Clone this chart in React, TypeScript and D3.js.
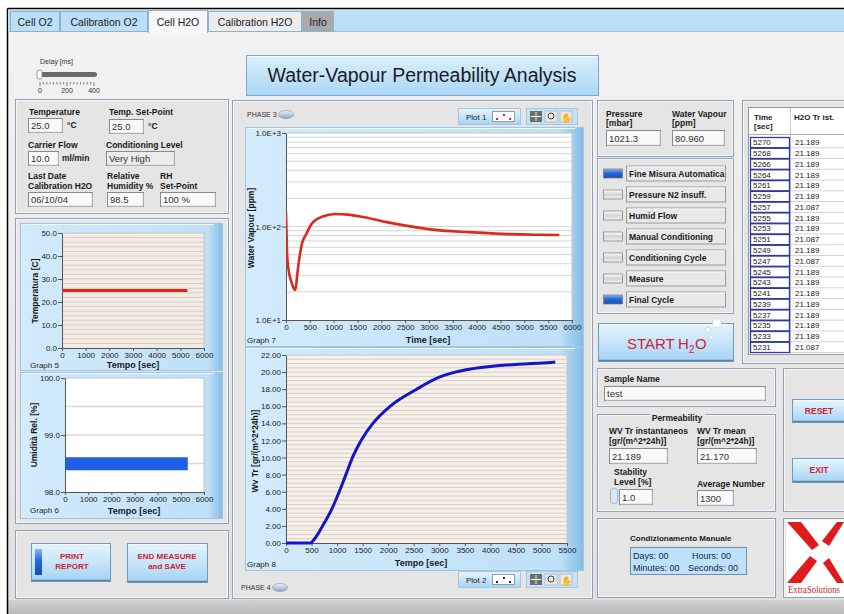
import React, { useEffect, useRef } from 'react';
import * as d3 from 'd3';

const FONT = '"Liberation Sans", Arial, sans-serif';

// tab strip
const tabs = ['Cell O2', 'Calibration O2', 'Cell H2O', 'Calibration H2O', 'Info'];

// Graph 5 - temperatura
const tempTime = [0, 5300];
const tempValue = [25, 25];

// Graph 6 - umidità relativa (banda dei punti)
const humTime = [0, 5300];
const humLow = [98.38, 98.38];
const humHigh = [98.61, 98.61];

// Graph 7 - water vapour [ppm]
const wvTime = [0, 4, 12, 21, 56, 112, 161, 182, 210, 231, 266, 336, 420, 545, 755, 1035, 1300, 1594, 2084, 2573, 3133, 3832, 4531, 5231, 5734];
const wvPpm = [143, 110, 84, 52, 34, 25.7, 21.8, 21, 22.7, 29, 40.6, 66, 82, 108, 127, 136, 134, 127, 112, 101, 92, 87, 83.3, 81.5, 81];

// Graph 8 - Wv Tr
const trTime = [0, 475, 560, 716, 898, 1042, 1172, 1300, 1470, 1700, 2037, 2558, 3000, 3307, 3500, 4000, 4500, 5000, 5270];
const trValue = [0, 0, 0.5, 2, 4, 6, 8, 10, 12, 14, 16, 18, 19.4, 20, 20.25, 20.65, 20.9, 21.05, 21.19];

// tabella
const tableTime = [5270, 5268, 5266, 5264, 5261, 5259, 5257, 5255, 5253, 5251, 5249, 5247, 5245, 5243, 5241, 5239, 5237, 5235, 5233, 5231];
const tableTr = ['21.189', '21.189', '21.189', '21.189', '21.189', '21.189', '21.087', '21.189', '21.189', '21.087', '21.189', '21.087', '21.189', '21.189', '21.189', '21.189', '21.189', '21.189', '21.189', '21.087'];

// indicatori
const indicators = ['Fine Misura Automatica', 'Pressure N2 insuff.', 'Humid Flow', 'Manual Conditioning', 'Conditioning Cycle', 'Measure', 'Final Cycle'];
const indicatorOn = [true, false, false, false, false, false, true];

export default function App() {
  const ref = useRef<SVGSVGElement | null>(null);

  useEffect(() => {
    const svg = d3.select(ref.current as SVGSVGElement);
    svg.selectAll('*').remove();
    svg.attr('font-family', FONT);
    const defs = svg.append('defs');

    const grad = (id: string, stops: [number, string][], horiz = false) => {
      const g = defs.append('linearGradient').attr('id', id)
        .attr('x1', 0).attr('y1', 0).attr('x2', horiz ? 1 : 0).attr('y2', horiz ? 0 : 1);
      stops.forEach(([o, c]) => g.append('stop').attr('offset', o).attr('stop-color', c));
    };
    grad('page', [[0, '#f3f3f3'], [1, '#e0e0e0']]);
    grad('btn', [[0, '#e6f4fd'], [0.5, '#c6e5fa'], [1, '#a4d2f3']]);
    grad('title', [[0, '#ddf0fd'], [1, '#a9d6f5']]);
    grad('frame', [[0, '#d3ebfb'], [0.93, '#bfe0f8'], [1, '#84bbe5']], true);
    grad('ledOn', [[0, '#8ab8f2'], [0.45, '#2466d8'], [1, '#1b4fb0']]);
    grad('ledOff', [[0, '#ffffff'], [0.5, '#d4d4d4'], [1, '#f2f2f2']]);
    grad('phase', [[0, '#eef4fa'], [1, '#8aa6c4']]);
    grad('band', [[0, '#d2d2d2'], [1, '#b8b8b8']]);

    const R = (x: number, y: number, w: number, h: number, fill: string, stroke = 'none', sw = 1, rx = 0) =>
      svg.append('rect').attr('x', x).attr('y', y).attr('width', w).attr('height', h)
        .attr('fill', fill).attr('stroke', stroke).attr('stroke-width', sw).attr('rx', rx);
    const L = (x1: number, y1: number, x2: number, y2: number, stroke: string, sw = 1) =>
      svg.append('line').attr('x1', x1).attr('y1', y1).attr('x2', x2).attr('y2', y2)
        .attr('stroke', stroke).attr('stroke-width', sw);
    const T = (x: number, y: number, s: string, o: any = {}) =>
      svg.append('text').attr('x', x).attr('y', y)
        .attr('font-size', o.size ?? 9)
        .attr('font-weight', o.bold ? 'bold' : 'normal')
        .attr('text-anchor', o.anchor ?? 'start')
        .attr('fill', o.fill ?? '#1a1a1a')
        .attr('font-family', o.family ?? FONT)
        .text(s);

    const panel = (x: number, y: number, w: number, h: number) => {
      R(x + 0.5, y + 0.5, w, h, '#e5e5e5', '#8ea4b6');
      R(x + 1.5, y + 1.5, w - 2, h - 2, 'none', '#f6f6f6');
    };
    const field = (x: number, y: number, w: number, h: number, s: string, fill = '#f9f9f9') => {
      R(x + 0.5, y + 0.5, w, h, fill, '#8a8a8a');
      svg.append('path').attr('d', `M${x + 1.5},${y + h}H${x + w}V${y + 1.5}`)
        .attr('fill', 'none').attr('stroke', '#d8d8d8');
      T(x + 3, y + h - 3, s, { size: 9.5, fill: '#333' });
    };
    const button = (x: number, y: number, w: number, h: number) => {
      R(x + 0.5, y + 0.5, w, h, 'url(#btn)', '#6f9ac0');
      L(x + 1.5, y + 1.5, x + w - 1, y + 1.5, '#f4fbff');
      L(x + 1, y + h - 0.5, x + w, y + h - 0.5, '#5c84aa', 1.5);
    };

    // pagina
    R(0, 0, 844, 614, '#ffffff');
    R(8, 9, 836, 605, 'url(#page)');
    R(8, 600, 836, 14, 'url(#band)');
    L(7.5, 8.5, 844, 8.5, '#000', 1.5);
    L(7.5, 8.5, 7.5, 614, '#000', 1.5);

    // tab strip
    R(8, 10, 836, 21, '#bcdff8');
    L(8, 31.5, 844, 31.5, '#9ec3e0');
    const tabEdge = [10, 60, 148, 208, 302, 334];
    const tabFill = ['#bcdff8', '#bcdff8', '#f7f7f7', '#ececec', '#a9a9a9'];
    tabs.forEach((t, i) => {
      const x0 = tabEdge[i];
      const x1 = tabEdge[i + 1];
      const active = i === 2;
      R(x0 + 0.5, active ? 10.5 : 11.5, x1 - x0 - 1, active ? 22 : 20, tabFill[i], '#8fb2cf');
      T((x0 + x1) / 2, 26, t, { size: 10.5, anchor: 'middle', fill: '#222' });
    });
    R(149, 30, 58, 3, '#f7f7f7');

    // delay slider
    T(40, 64, 'Delay [ms]', { size: 7, fill: '#333' });
    R(38, 72, 59, 5, '#6b6b6b', 'none', 1, 2.5);
    R(37, 70, 5, 9, '#ffffff', '#8a8a8a', 0.8, 2);
    const sx = d3.scaleLinear().domain([0, 400]).range([40, 94]);
    d3.range(0, 401, 25).forEach((v) => L(sx(v), 82, sx(v), v % 200 === 0 ? 86 : 84.5, '#555', 0.7));
    [0, 200, 400].forEach((v) => T(sx(v), 93, String(v), { size: 7, anchor: 'middle', fill: '#333' }));

    // titolo
    R(246.5, 55.5, 352, 40, 'url(#title)', '#7ea8ca');
    L(247.5, 56.5, 597, 56.5, '#f2faff');
    T(422, 82, 'Water-Vapour Permeability Analysis', { size: 19.5, anchor: 'middle', fill: '#1c1c1c' });

    // pannelli
    panel(15, 99, 213, 114);
    panel(15, 218, 213, 305);
    panel(15, 530, 213, 68);
    panel(232, 100, 360, 498);
    panel(597, 100, 136, 56);
    panel(597, 158, 136, 155);
    panel(742, 100, 110, 263);
    panel(597, 368, 178, 38);
    panel(597, 414, 178, 97);
    panel(597, 518, 178, 79);
    panel(783, 368, 70, 143);
    panel(783, 518, 70, 79);

    // parametri a sinistra
    const B = { bold: true, size: 8.5 };
    T(29, 115, 'Temperature', B);
    field(28, 118, 34, 14, '25.0');
    T(67, 128, '°C', { size: 8.5, bold: true });
    T(109, 115, 'Temp. Set-Point', B);
    field(109, 119, 34, 14, '25.0');
    T(148, 129, '°C', { size: 8.5, bold: true });
    T(28, 148, 'Carrier Flow', B);
    field(28, 151, 30, 14, '10.0');
    T(62, 161, 'ml/min', { size: 8.5, bold: true });
    T(106, 148, 'Conditioning Level', B);
    field(106, 151, 68, 14, 'Very High', '#ececec');
    T(28, 179, 'Last Date', B);
    T(28, 189, 'Calibration H2O', B);
    field(28, 192, 64, 14, '06/10/04');
    T(107, 179, 'Relative', B);
    T(107, 189, 'Humidity %', B);
    field(107, 192, 36, 14, '98.5');
    T(160, 179, 'RH', B);
    T(160, 189, 'Set-Point', B);
    field(160, 192, 55, 14, '100 %');

    // stile assi
    const styleAxis = (g: any) => {
      g.attr('font-size', 8).attr('font-family', FONT);
      g.select('.domain').attr('stroke', '#555');
      g.selectAll('.tick line').attr('stroke', '#555');
      g.selectAll('.tick text').attr('fill', '#222');
    };

    const graph = (o: any) => {
      const [fx, fy, fw, fh] = o.frame;
      R(fx + 0.5, fy + 0.5, fw, fh, 'url(#frame)', '#9fc5e4');
      L(fx + 1.5, fy + 1.5, fx + fw - 8, fy + 1.5, '#f0f9ff');
      const [x0, x1] = o.x.range();
      const [yb, yt] = o.y.range();
      R(x0, yt, x1 - x0, yb - yt, o.bg);
      o.grid.forEach((v: number) => L(x0, o.y(v), x1, o.y(v), o.gridColor, o.gridW ?? 1));
      L(x1, yt, x1, yb, '#c4c4c4');
      L(x0, yt, x1, yt, '#c4c4c4');
      const ay = svg.append('g').attr('transform', `translate(${x0},0)`)
        .call(d3.axisLeft(o.y).tickValues(o.yTicks).tickFormat(o.yFmt).tickSizeInner(4).tickSizeOuter(0).tickPadding(1) as any);
      const ax = svg.append('g').attr('transform', `translate(0,${yb})`)
        .call(d3.axisBottom(o.x).tickValues(o.xTicks).tickFormat(d3.format('d')).tickSizeInner(3).tickSizeOuter(0).tickPadding(1) as any);
      styleAxis(ay);
      styleAxis(ax);
      svg.append('text').attr('transform', `translate(${o.yLab[0]},${o.yLab[1]}) rotate(-90)`)
        .attr('text-anchor', 'middle').attr('font-size', 8.5).attr('font-weight', 'bold')
        .attr('fill', '#1a1a1a').text(o.yTitle);
      T(o.xLab[0], o.xLab[1], o.xTitle, { bold: true, size: 9, anchor: 'middle' });
      T(o.name[0], o.name[1], o.nameText, { size: 8, fill: '#222' });
      const cid = 'clip' + o.nameText.replace(/\s/g, '');
      defs.append('clipPath').attr('id', cid).append('rect')
        .attr('x', x0).attr('y', yt - 2).attr('width', x1 - x0).attr('height', yb - yt + 4);
      return svg.append('g').attr('clip-path', `url(#${cid})`);
    };

    // Graph 5
    const x5 = d3.scaleLinear().domain([0, 6000]).range([62, 204]);
    const y5 = d3.scaleLinear().domain([0, 50]).range([348, 233]);
    const g5 = graph({
      frame: [20, 223, 202, 147], x: x5, y: y5, bg: '#f3ece5',
      grid: d3.range(2, 50, 2), gridColor: '#d9cdc4',
      yTicks: d3.range(0, 51, 10), yFmt: d3.format('.1f'), xTicks: d3.range(0, 6001, 1000),
      yLab: [38, 291], yTitle: 'Temperatura [C]', xLab: [133, 368], xTitle: 'Tempo [sec]',
      name: [30, 368], nameText: 'Graph 5',
    });
    g5.append('path')
      .attr('d', d3.line<number>().x((d) => x5(d)).y((_, i) => y5(tempValue[i]))(tempTime) as string)
      .attr('fill', 'none').attr('stroke', '#d9291c').attr('stroke-width', 3);

    // Graph 6
    const x6 = d3.scaleLinear().domain([0, 6000]).range([65, 204]);
    const y6 = d3.scaleLinear().domain([98, 100]).range([492, 378]);
    const g6 = graph({
      frame: [20, 372, 202, 146], x: x6, y: y6, bg: '#ffffff',
      grid: [98.5, 99, 99.5], gridColor: '#d8d8d8', gridW: 1.5,
      yTicks: [98, 99, 100], yFmt: d3.format('.1f'), xTicks: d3.range(0, 6001, 1000),
      yLab: [37, 435], yTitle: 'Umidità Rel. [%]', xLab: [134, 514], xTitle: 'Tempo [sec]',
      name: [30, 513], nameText: 'Graph 6',
    });
    g6.append('path')
      .attr('d', d3.area<number>().x((d) => x6(d)).y0((_, i) => y6(humLow[i])).y1((_, i) => y6(humHigh[i]))(humTime) as string)
      .attr('fill', '#1f5fe6');

    // Graph 7
    const x7 = d3.scaleLinear().domain([0, 6000]).range([286, 572]);
    const y7 = d3.scaleLog().domain([10, 1000]).range([320, 133]);
    const minor7 = [20, 30, 40, 50, 60, 70, 80, 90, 200, 300, 400, 500, 600, 700, 800, 900];
    const g7 = graph({
      frame: [245, 127, 338, 219], x: x7, y: y7, bg: '#ffffff',
      grid: [...minor7, 100], gridColor: '#d6d6d6',
      yTicks: [10, 100, 1000], yFmt: (d: number) => `1.0E+${Math.round(Math.log10(d))}`,
      xTicks: d3.range(0, 6001, 500),
      yLab: [254, 228], yTitle: 'Water Vapour  [ppm]', xLab: [428, 343], xTitle: 'Time [sec]',
      name: [247, 343], nameText: 'Graph 7',
    });
    g7.append('path')
      .attr('d', d3.line<number>().curve(d3.curveMonotoneX).x((d) => x7(d)).y((_, i) => y7(wvPpm[i]))(wvTime) as string)
      .attr('fill', 'none').attr('stroke', '#dc2a1c').attr('stroke-width', 2.6);

    // Graph 8
    const x8 = d3.scaleLinear().domain([0, 5500]).range([286, 567]);
    const y8 = d3.scaleLinear().domain([0, 22]).range([543, 355]);
    const g8 = graph({
      frame: [245, 347, 338, 223], x: x8, y: y8, bg: '#f6f0ea',
      grid: d3.range(0.5, 22, 0.5), gridColor: '#dacfc6',
      yTicks: d3.range(0, 23, 2), yFmt: d3.format('.2f'), xTicks: d3.range(0, 5501, 500),
      yLab: [258, 451], yTitle: 'Wv Tr  [gr/(m^2*24h)]', xLab: [421, 566], xTitle: 'Tempo [sec]',
      name: [247, 567], nameText: 'Graph 8',
    });
    g8.append('path')
      .attr('d', d3.line<number>().curve(d3.curveMonotoneX).x((d) => x8(d)).y((_, i) => y8(trValue[i]))(trTime) as string)
      .attr('fill', 'none').attr('stroke', '#1414c8').attr('stroke-width', 3);

    // phase LED, legenda, strumenti
    const phase = (x: number, y: number, s: string, cx: number) => {
      T(x, y, s, { size: 7, fill: '#333' });
      svg.append('ellipse').attr('cx', cx).attr('cy', y - 2.5).attr('rx', 7.5).attr('ry', 4)
        .attr('fill', 'url(#phase)').attr('stroke', '#7f97b0').attr('stroke-width', 0.6);
    };
    phase(247, 117, 'PHASE 3', 286);
    phase(241, 590, 'PHASE 4', 280);
    const legend = (y: number, s: string, color: string) => {
      R(458.5, y + 0.5, 62, 16, 'url(#btn)', '#a6c6df');
      T(466, y + 11.5, s, { size: 8, fill: '#222' });
      R(492.5, y + 3.5, 22, 10, '#ffffff', '#9a9a9a');
      [[496, 10], [503, 6], [509, 10]].forEach(([cx, cy]) =>
        R(cx, y + cy, 2, 2, color));
      R(526.5, y + 0.5, 51, 16, '#c8e2f5', '#a6c6df');
      R(530, y + 3, 12, 11, '#6d6d6d');
      L(536, y + 4, 536, y + 13, '#dfe', 1);
      L(531, y + 8.5, 541, y + 8.5, '#dfe', 1);
      R(545, y + 3, 12, 11, '#e8e8e8', '#999', 0.5);
      svg.append('circle').attr('cx', 551).attr('cy', y + 8).attr('r', 3).attr('fill', 'none').attr('stroke', '#444');
      R(560, y + 3, 12, 11, '#e8e8e8', '#999', 0.5);
      T(566, y + 12.5, '✋', { size: 9, anchor: 'middle', fill: '#444' });
    };
    legend(108, 'Plot 1', '#d42a1a');
    legend(571, 'Plot 2', '#1414c8');

    // pulsanti in basso a sinistra
    button(31, 543, 79, 38);
    R(35, 549, 7, 26, 'url(#ledOn)');
    T(72, 559, 'PRINT', { bold: true, size: 8, anchor: 'middle', fill: '#d0202c' });
    T(72, 569, 'REPORT', { bold: true, size: 8, anchor: 'middle', fill: '#d0202c' });
    button(127, 543, 80, 39);
    T(167, 559, 'END MEASURE', { bold: true, size: 8, anchor: 'middle', fill: '#d0202c' });
    T(167, 569, 'and SAVE', { bold: true, size: 8, anchor: 'middle', fill: '#d0202c' });

    // pressione / vapore
    T(606, 117, 'Pressure', B);
    T(606, 126, '[mbar]', B);
    field(606, 130, 54, 15, '1021.3');
    T(672, 117, 'Water Vapour', B);
    T(672, 126, '[ppm]', B);
    field(672, 130, 52, 15, '80.960');

    // indicatori
    const rowY = d3.scaleBand<number>().domain(d3.range(indicators.length)).range([163, 310]);
    indicators.forEach((s, i) => {
      const c = (rowY(i) as number) + rowY.bandwidth() / 2;
      R(603.5, c - 4.5, 19, 9, indicatorOn[i] ? 'url(#ledOn)' : 'url(#ledOff)', '#7a7a7a', 0.7);
      R(626.5, c - 7.5, 99, 15, '#e8e8e8', '#9a9a9a');
      L(627.5, c - 6.5, 725, c - 6.5, '#fafafa');
      T(629, c + 3, s, { bold: true, size: 8.5 });
    });

    // START H2O
    button(598, 323, 135, 38);
    T(627, 349, 'START', { size: 15, fill: '#d6203a' });
    T(678, 349, 'H', { size: 15, fill: '#d6203a' });
    T(689, 353, '2', { size: 10, fill: '#d6203a' });
    T(695, 349, 'O', { size: 15, fill: '#d6203a' });
    [[717, 323, 4.5], [708, 330, 2.6], [711, 337, 2], [703, 336, 1.4]].forEach(([cx, cy, r]) =>
      svg.append('circle').attr('cx', cx).attr('cy', cy).attr('r', r)
        .attr('fill', '#ffffff').attr('stroke', '#b8c4cc').attr('stroke-width', 0.6));

    // tabella
    R(748.5, 107.5, 100, 247, '#ffffff', '#9a9a9a');
    L(749, 134.5, 844, 134.5, '#b0b0b0');
    L(790.5, 108, 790.5, 354, '#c8c8c8');
    T(754, 120, 'Time', { bold: true, size: 8 });
    T(754, 129, '[sec]', { bold: true, size: 8 });
    T(794, 120, 'H2O Tr ist.', { bold: true, size: 8 });
    const tRow = d3.scaleBand<number>().domain(d3.range(tableTime.length)).range([137, 352]).paddingInner(0.05);
    tableTime.forEach((t, i) => {
      const y = tRow(i) as number;
      const h = tRow.bandwidth();
      R(750.5, y + 0.5, 39, h, '#ffffff', '#2a3a9e', 1.3);
      L(791, y + h + 0.5, 844, y + h + 0.5, '#d4d4d4');
      T(753, y + h - 2, String(t), { size: 8, fill: '#222' });
      T(795, y + h - 2, tableTr[i], { size: 8, fill: '#222' });
    });

    // sample name
    T(604, 382, 'Sample Name', B);
    field(604, 386, 161, 14, 'test');

    // permeability
    R(650, 414, 55, 4, '#e5e5e5');
    T(677, 421, 'Permeability', { bold: true, size: 8.5, anchor: 'middle' });
    T(609, 434, 'WV Tr instantaneos', B);
    T(609, 444, '[gr/(m^2*24h)]', B);
    field(609, 448, 58, 15, '21.189');
    T(697, 434, 'WV Tr mean', B);
    T(697, 444, '[gr/(m^2*24h)]', B);
    field(697, 448, 59, 15, '21.170');
    T(614, 475, 'Stability', B);
    T(614, 485, 'Level [%]', B);
    R(610.5, 488.5, 7, 15, '#d8e8f4', '#8aa0b4', 0.7, 3);
    field(619, 489, 33, 15, '1.0');
    T(697, 487, 'Average Number', B);
    field(697, 490, 36, 15, '1300');

    // reset / exit
    button(792, 399, 56, 23);
    T(819, 414, 'RESET', { bold: true, size: 8.5, anchor: 'middle', fill: '#d0202c' });
    button(792, 458, 56, 24);
    T(819, 473, 'EXIT', { bold: true, size: 8.5, anchor: 'middle', fill: '#d0202c' });

    // condizionamento manuale
    T(630, 541, 'Condizionamento Manuale', { bold: true, size: 8 });
    R(630.5, 547.5, 116, 27, '#bfe2fb', '#6e8fae');
    T(633, 559, 'Days: 00', { size: 9, fill: '#142448' });
    T(692, 559, 'Hours: 00', { size: 9, fill: '#142448' });
    T(633, 571, 'Minutes: 00', { size: 9, fill: '#142448' });
    T(688, 571, 'Seconds: 00', { size: 9, fill: '#142448' });

    // logo
    R(786, 520, 60, 76, '#ffffff');
    const red = '#e01b1b';
    svg.append('path').attr('d', 'M787,522 L801,522 L819,545 L812,550 Z').attr('fill', red);
    svg.append('path').attr('d', 'M844,522 L837,522 L822,541 L829,546 Z').attr('fill', red);
    svg.append('path').attr('d', 'M787,583 L801,583 L817,561 L810,556 Z').attr('fill', red);
    svg.append('path').attr('d', 'M844,583 L837,583 L823,563 L829,558 Z').attr('fill', red);
    T(788, 593, 'ExtraSolutions', { size: 9.5, fill: '#c81c1c', family: '"Liberation Serif", serif' })
      .attr('textLength', 52).attr('lengthAdjust', 'spacingAndGlyphs');
  }, []);

  return (
    <svg
      ref={ref}
      width={844}
      height={614}
      style={{ position: 'absolute', left: 0, top: 0, display: 'block' }}
    />
  );
}
